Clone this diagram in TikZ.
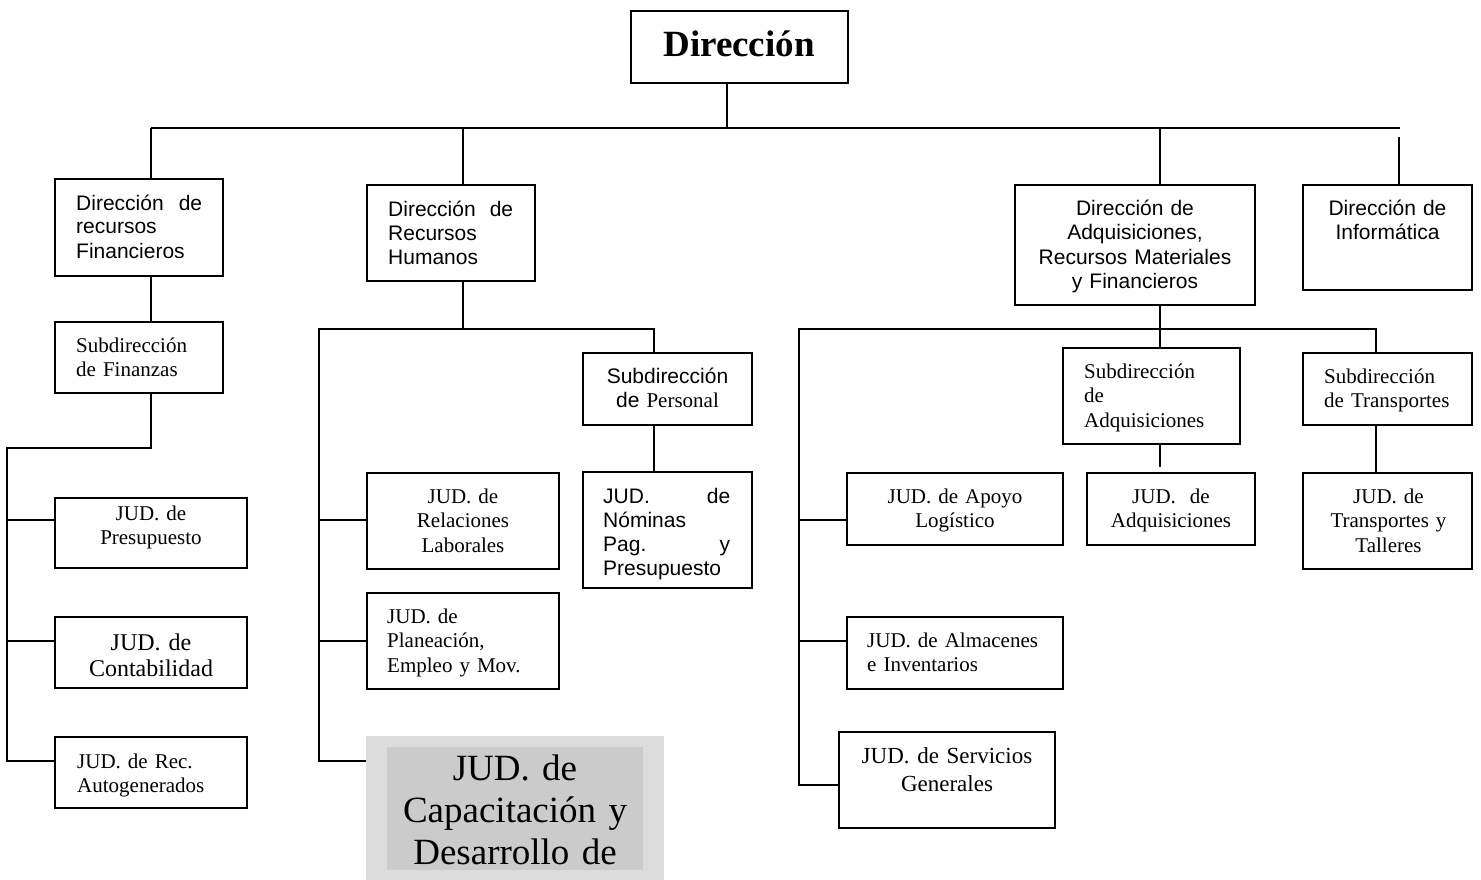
\documentclass[tikz,border=0pt]{standalone}
\usepackage{fontspec}
\setmainfont{Liberation Serif}
\setsansfont{Liberation Sans}
\newcommand\fs[2]{\fontsize{#1}{#2}\selectfont}
\definecolor{grayout}{RGB}{220,220,220}
\definecolor{grayinn}{RGB}{203,203,203}
\tikzset{
  box/.style={draw, line width=1.9pt, inner sep=0pt},
  ln/.style={line width=1.9pt},
  txt/.style={inner sep=0pt},
  sf/.style={txt, font=\sffamily\fs{21}{24}},
  rm/.style={txt, font=\rmfamily\fs{21}{24.5}},
  ctr/.style={anchor=base, text width=#1, align=center},
  lft/.style={anchor=base west, text width=#1, align=left},
}
\begin{document}
\begin{tikzpicture}[x=1pt,y=-1pt]
\useasboundingbox (0,0) rectangle (1481,880);

% ---------- boxes ----------
\node[box,minimum width=217pt,minimum height=72pt] (dir) at (739.5,47) {};
\node[box,minimum width=168pt,minimum height=97pt] (rf) at (139,227.5) {};
\node[box,minimum width=168pt,minimum height=71pt] (sf) at (139,357.5) {};
\node[box,minimum width=192pt,minimum height=70pt] (jp) at (151,533) {};
\node[box,minimum width=192pt,minimum height=71pt] (jc) at (151,652.5) {};
\node[box,minimum width=192pt,minimum height=71pt] (jr) at (151,772.5) {};
\node[box,minimum width=168pt,minimum height=96pt] (rh) at (451,233) {};
\node[box,minimum width=169pt,minimum height=72pt] (sp) at (667.5,389) {};
\node[box,minimum width=169pt,minimum height=116pt] (jn) at (667.5,530) {};
\node[box,minimum width=192pt,minimum height=96pt] (jrl) at (463,521) {};
\node[box,minimum width=192pt,minimum height=96pt] (jpl) at (463,641) {};
\node[fill=grayout,inner sep=0pt,minimum width=298pt,minimum height=160pt] (gray) at (515,816) {};
\node[fill=grayinn,inner sep=0pt,minimum width=256pt,minimum height=123pt] (grayi) at (515,808.5) {};
\node[box,minimum width=240pt,minimum height=120pt] (adq) at (1135,245) {};
\node[box,minimum width=169pt,minimum height=105pt] (info) at (1387.5,237.5) {};
\node[box,minimum width=177pt,minimum height=96pt] (sa) at (1151.5,396) {};
\node[box,minimum width=169pt,minimum height=72pt] (st) at (1387.5,389) {};
\node[box,minimum width=168pt,minimum height=72pt] (jad) at (1171,509) {};
\node[box,minimum width=169pt,minimum height=96pt] (jt) at (1387.5,521) {};
\node[box,minimum width=216pt,minimum height=72pt] (jal) at (955,509) {};
\node[box,minimum width=216pt,minimum height=72pt] (jam) at (955,653) {};
\node[box,minimum width=216pt,minimum height=96pt] (jsg) at (947,780) {};

% ---------- texts ----------
\node[txt, font=\rmfamily\bfseries\fs{37}{42}, anchor=base] (dirT) at (739,57) {Dirección};
\node[sf, lft=126pt] (rfT) at (76,210) {Dirección\hfill de\\recursos\\Financieros};
\node[rm, lft=140pt] (sfT) at (76,352) {Subdirección\\de Finanzas};
\node[rm, ctr=180pt] (jpT) at (151,520) {JUD. de\\Presupuesto};
\node[txt, font=\rmfamily\fs{24}{26}, ctr=180pt] (jcT) at (151,650) {JUD. de\\Contabilidad};
\node[rm, lft=160pt] (jrT) at (77,768) {JUD. de Rec.\\Autogenerados};
\node[sf, lft=125pt] (rhT) at (388,216) {Dirección\hfill de\\Recursos\\Humanos};
\node[sf, ctr=160pt] (spT) at (667.5,383) {Subdirección\\de {\rmfamily Personal}};
\begin{scope}
\clip (583,472) rectangle (752,579);
\node[sf, lft=127pt] (jnT) at (603,503) {JUD.\hfill de\\Nóminas\\Pag.\hfill y\\Presupuesto};
\end{scope}
\node[rm, ctr=180pt] (jrlT) at (463,503) {JUD. de\\Relaciones\\Laborales};
\node[rm, lft=165pt] (jplT) at (387,623) {JUD. de\\Planeación,\\Empleo y Mov.};
\node[txt, font=\rmfamily\fs{37}{42}, ctr=290pt] (grayT) at (515,780) {JUD. de\\Capacitación y\\Desarrollo de};
\node[txt, font=\sffamily\fs{21}{24.5}, ctr=230pt] (adqT) at (1135,215) {Dirección de\\Adquisiciones,\\Recursos Materiales\\y Financieros};
\node[sf, ctr=160pt] (infoT) at (1387.5,215) {Dirección de\\Informática};
\node[rm, lft=150pt] (saT) at (1084,378) {Subdirección\\de\\Adquisiciones};
\node[rm, lft=145pt] (stT) at (1324,383) {Subdirección\\de Transportes};
\node[rm, ctr=160pt] (jadT) at (1171,503) {JUD.\ \ de\\Adquisiciones};
\node[rm, ctr=160pt] (jtT) at (1388.5,503) {JUD. de\\Transportes y\\Talleres};
\node[rm, ctr=200pt] (jalT) at (955,503) {JUD. de Apoyo\\Logístico};
\node[rm, lft=190pt] (jamT) at (867,647) {JUD. de Almacenes\\e Inventarios};
\node[txt, font=\rmfamily\fs{23}{28}, ctr=210pt] (jsgT) at (947,763) {JUD. de Servicios\\Generales};

% ---------- connector coordinates ----------
\coordinate (t0) at (727,128);
\coordinate (tL) at (151,128);
\coordinate (tR) at (1400,128);
\coordinate (t2) at (463,128);
\coordinate (t3) at (1160,128);
\coordinate (t4) at (1399,137);
\coordinate (fA) at (151,448);
\coordinate (fB) at (7,448);
\coordinate (fE) at (7,761);
\coordinate (f1) at (7,520);
\coordinate (f2) at (7,641);
\coordinate (hA) at (463,329);
\coordinate (hL) at (319,329);
\coordinate (hR) at (654,329);
\coordinate (hE) at (319,761);
\coordinate (h1) at (319,520);
\coordinate (h2) at (319,641);
\coordinate (aA) at (1160,329);
\coordinate (aL) at (799,329);
\coordinate (aR) at (1376,329);
\coordinate (aE) at (799,785);
\coordinate (a1) at (799,520);
\coordinate (a2) at (799,641);

% ---------- connectors ----------
\draw[ln] (dir.south -| t0) -- (t0);
\draw[ln] (tL) -- (tR);
\draw[ln] (tL) -- (rf.north -| tL);
\draw[ln] (t2) -- (rh.north -| t2);
\draw[ln] (t3) -- (adq.north -| t3);
\draw[ln] (t4) -- (info.north -| t4);

\draw[ln] (rf.south -| tL) -- (sf.north -| tL);
\draw[ln] (sf.south -| tL) -- (fA) -- (fB) -- (fE) -- (fE -| jr.west);
\draw[ln] (f1) -- (f1 -| jp.west);
\draw[ln] (f2) -- (f2 -| jc.west);

\draw[ln] (rh.south -| hA) -- (hA);
\draw[ln] (hE -| gray.west) -- (hE) -- (hL) -- (hR) -- (sp.north -| hR);
\draw[ln] (sp.south -| hR) -- (jn.north -| hR);
\draw[ln] (h1) -- (h1 -| jrl.west);
\draw[ln] (h2) -- (h2 -| jpl.west);

\draw[ln] (adq.south -| aA) -- (aA);
\draw[ln] (aE -| jsg.west) -- (aE) -- (aL) -- (aR) -- (st.north -| aR);
\draw[ln] (aA) -- (sa.north -| aA);
\draw[ln, shorten >=5pt] (sa.south -| aA) -- (jad.north -| aA);
\draw[ln] (st.south -| aR) -- (jt.north -| aR);
\draw[ln] (a1) -- (a1 -| jal.west);
\draw[ln] (a2) -- (a2 -| jam.west);
\end{tikzpicture}
\end{document}
